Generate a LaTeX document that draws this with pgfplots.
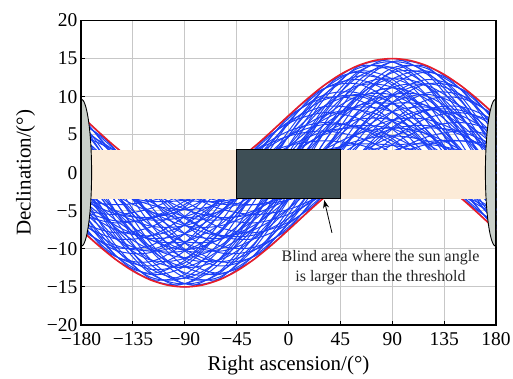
\documentclass[border=0pt]{standalone}
\usepackage{fontspec}
\setmainfont{Liberation Serif}
\usepackage{pgfplots}
\pgfplotsset{compat=1.18}
\usetikzlibrary{arrows.meta}
\definecolor{bluec}{RGB}{28,64,245}
\definecolor{redc}{RGB}{232,30,40}
\definecolor{beige}{RGB}{252,235,216}
\definecolor{darkbox}{RGB}{62,79,86}
\definecolor{ellc}{RGB}{202,208,202}
\pgfplotsset{bl/.style={bluec, line width=1pt, smooth, no marks},
  rd/.style={redc, line width=1.6pt, smooth, no marks}}
\begin{document}
\begin{tikzpicture}
\path[use as bounding box] (-81pt,-53pt) rectangle (432pt,325pt);
\begin{axis}[
 at={(0pt,0pt)}, anchor=south west,
 width=415pt, height=304.5pt, scale only axis,
 xmin=-180, xmax=180, ymin=-20, ymax=20,
 xtick={-180,-135,...,180}, ytick={-20,-15,...,20},
 xticklabels={−180,−135,−90,−45,0,45,90,135,180},
 yticklabels={−20,−15,−10,−5,0,5,10,15,20},
 tick align=inside, xtick pos=bottom, ytick pos=left,
 major tick length=4pt,
 grid=major, grid style={draw=black!22, line width=0.9pt},
 tick label style={font=\fontsize{19.5}{21}\selectfont},
 xticklabel style={yshift=-4pt},
 label style={font=\fontsize{21}{23}\selectfont},
 xlabel={Right ascension/(°)}, ylabel={Declination/(°)},
 xlabel style={yshift=-3pt},
 ylabel style={yshift=5pt},
 axis line style={line width=1.2pt},
 tick style={black, line width=0.9pt},
]
% blue family
\addplot[bl] coordinates {(-210,7.5)(-180,0)(-150,-7.5)(-120,-12.99)(-90,-15)(-60,-12.99)(-30,-7.5)(0,0)(30,7.5)(60,12.99)(90,15)(120,12.99)(150,7.5)(180,0)(210,-7.5)};
\addplot[bl] coordinates {(-210,5.07)(-180,-2.57)(-150,-9.51)(-120,-13.91)(-90,-14.58)(-60,-11.35)(-30,-5.07)(0,2.57)(30,9.51)(60,13.91)(90,14.58)(120,11.35)(150,5.07)(180,-2.57)(210,-9.51)};
\addplot[bl] coordinates {(-210,2.51)(-180,-4.82)(-150,-10.85)(-120,-13.98)(-90,-13.36)(-60,-9.16)(-30,-2.51)(0,4.82)(30,10.85)(60,13.98)(90,13.36)(120,9.16)(150,2.51)(180,-4.82)(210,-10.85)};
\addplot[bl] coordinates {(-210,0.12)(-180,-6.5)(-150,-11.38)(-120,-13.21)(-90,-11.5)(-60,-6.71)(-30,-0.12)(0,6.5)(30,11.38)(60,13.21)(90,11.5)(120,6.71)(150,0.12)(180,-6.5)(210,-11.38)};
\addplot[bl] coordinates {(-210,-1.79)(-180,-7.39)(-150,-11.01)(-120,-11.68)(-90,-9.22)(-60,-4.28)(-30,1.79)(0,7.39)(30,11.01)(60,11.68)(90,9.22)(120,4.28)(150,-1.79)(180,-7.39)(210,-11.01)};
\addplot[bl] coordinates {(-210,-3.01)(-180,-7.39)(-150,-9.79)(-120,-9.57)(-90,-6.78)(-60,-2.17)(-30,3.01)(0,7.39)(30,9.79)(60,9.57)(90,6.78)(120,2.17)(150,-3.01)(180,-7.39)(210,-9.79)};
\addplot[bl] coordinates {(-210,-3.38)(-180,-6.5)(-150,-7.88)(-120,-7.15)(-90,-4.5)(-60,-0.65)(-30,3.38)(0,6.5)(30,7.88)(60,7.15)(90,4.5)(120,0.65)(150,-3.38)(180,-6.5)(210,-7.88)};
\addplot[bl] coordinates {(-210,-2.85)(-180,-4.82)(-150,-5.49)(-120,-4.70)(-90,-2.64)(-60,0.12)(-30,2.85)(0,4.82)(30,5.49)(60,4.70)(90,2.64)(120,-0.12)(150,-2.85)(180,-4.82)(210,-5.49)};
\addplot[bl] coordinates {(-210,-1.51)(-180,-2.57)(-150,-2.93)(-120,-2.51)(-90,-1.42)(-60,0.05)(-30,1.51)(0,2.57)(30,2.93)(60,2.51)(90,1.42)(120,-0.05)(150,-1.51)(180,-2.57)(210,-2.93)};
\addplot[bl] coordinates {(-210,0.5)(-180,0)(-150,-0.5)(-120,-0.87)(-90,-1)(-60,-0.87)(-30,-0.5)(0,0)(30,0.5)(60,0.87)(90,1)(120,0.87)(150,0.5)(180,0)(210,-0.5)};
\addplot[bl] coordinates {(-210,2.93)(-180,2.57)(-150,1.51)(-120,0.05)(-90,-1.42)(-60,-2.51)(-30,-2.93)(0,-2.57)(30,-1.51)(60,-0.05)(90,1.42)(120,2.51)(150,2.93)(180,2.57)(210,1.51)};
\addplot[bl] coordinates {(-210,5.49)(-180,4.82)(-150,2.85)(-120,0.12)(-90,-2.64)(-60,-4.70)(-30,-5.49)(0,-4.82)(30,-2.85)(60,-0.12)(90,2.64)(120,4.70)(150,5.49)(180,4.82)(210,2.85)};
\addplot[bl] coordinates {(-210,7.88)(-180,6.5)(-150,3.38)(-120,-0.65)(-90,-4.5)(-60,-7.15)(-30,-7.88)(0,-6.5)(30,-3.38)(60,0.65)(90,4.5)(120,7.15)(150,7.88)(180,6.5)(210,3.38)};
\addplot[bl] coordinates {(-210,9.79)(-180,7.39)(-150,3.01)(-120,-2.17)(-90,-6.78)(-60,-9.57)(-30,-9.79)(0,-7.39)(30,-3.01)(60,2.17)(90,6.78)(120,9.57)(150,9.79)(180,7.39)(210,3.01)};
\addplot[bl] coordinates {(-210,11.01)(-180,7.39)(-150,1.79)(-120,-4.28)(-90,-9.22)(-60,-11.68)(-30,-11.01)(0,-7.39)(30,-1.79)(60,4.28)(90,9.22)(120,11.68)(150,11.01)(180,7.39)(210,1.79)};
\addplot[bl] coordinates {(-210,11.38)(-180,6.5)(-150,-0.12)(-120,-6.71)(-90,-11.5)(-60,-13.21)(-30,-11.38)(0,-6.5)(30,0.12)(60,6.71)(90,11.5)(120,13.21)(150,11.38)(180,6.5)(210,-0.12)};
\addplot[bl] coordinates {(-210,10.85)(-180,4.82)(-150,-2.51)(-120,-9.16)(-90,-13.36)(-60,-13.98)(-30,-10.85)(0,-4.82)(30,2.51)(60,9.16)(90,13.36)(120,13.98)(150,10.85)(180,4.82)(210,-2.51)};
\addplot[bl] coordinates {(-210,9.51)(-180,2.57)(-150,-5.07)(-120,-11.35)(-90,-14.58)(-60,-13.91)(-30,-9.51)(0,-2.57)(30,5.07)(60,11.35)(90,14.58)(120,13.91)(150,9.51)(180,2.57)(210,-5.07)};
\addplot[bl] coordinates {(-210,5.11)(-180,-1.26)(-150,-7.29)(-120,-11.37)(-90,-12.40)(-60,-10.11)(-30,-5.11)(0,1.26)(30,7.29)(60,11.37)(90,12.40)(120,10.11)(150,5.11)(180,-1.26)(210,-7.29)};
\addplot[bl] coordinates {(-210,2.62)(-180,-3.45)(-150,-8.60)(-120,-11.45)(-90,-11.22)(-60,-7.99)(-30,-2.62)(0,3.45)(30,8.60)(60,11.45)(90,11.22)(120,7.99)(150,2.62)(180,-3.45)(210,-8.60)};
\addplot[bl] coordinates {(-210,0.51)(-180,-4.71)(-150,-8.67)(-120,-10.31)(-90,-9.18)(-60,-5.59)(-30,-0.51)(0,4.71)(30,8.67)(60,10.31)(90,9.18)(120,5.59)(150,0.51)(180,-4.71)(210,-8.67)};
\addplot[bl] coordinates {(-210,-0.67)(-180,-4.71)(-150,-7.49)(-120,-8.27)(-90,-6.82)(-60,-3.55)(-30,0.67)(0,4.71)(30,7.49)(60,8.27)(90,6.82)(120,3.55)(150,-0.67)(180,-4.71)(210,-7.49)};
\addplot[bl] coordinates {(-210,-0.60)(-180,-3.45)(-150,-5.38)(-120,-5.87)(-90,-4.78)(-60,-2.41)(-30,0.60)(0,3.45)(30,5.38)(60,5.87)(90,4.78)(120,2.41)(150,-0.60)(180,-3.45)(210,-5.38)};
\addplot[bl] coordinates {(-210,0.71)(-180,-1.26)(-150,-2.89)(-120,-3.75)(-90,-3.60)(-60,-2.49)(-30,-0.71)(0,1.26)(30,2.89)(60,3.75)(90,3.60)(120,2.49)(150,0.71)(180,-1.26)(210,-2.89)};
\addplot[bl] coordinates {(-210,2.89)(-180,1.26)(-150,-0.71)(-120,-2.49)(-90,-3.60)(-60,-3.75)(-30,-2.89)(0,-1.26)(30,0.71)(60,2.49)(90,3.60)(120,3.75)(150,2.89)(180,1.26)(210,-0.71)};
\addplot[bl] coordinates {(-210,5.38)(-180,3.45)(-150,0.60)(-120,-2.41)(-90,-4.78)(-60,-5.87)(-30,-5.38)(0,-3.45)(30,-0.60)(60,2.41)(90,4.78)(120,5.87)(150,5.38)(180,3.45)(210,0.60)};
\addplot[bl] coordinates {(-210,7.49)(-180,4.71)(-150,0.67)(-120,-3.55)(-90,-6.82)(-60,-8.27)(-30,-7.49)(0,-4.71)(30,-0.67)(60,3.55)(90,6.82)(120,8.27)(150,7.49)(180,4.71)(210,0.67)};
\addplot[bl] coordinates {(-210,8.67)(-180,4.71)(-150,-0.51)(-120,-5.59)(-90,-9.18)(-60,-10.31)(-30,-8.67)(0,-4.71)(30,0.51)(60,5.59)(90,9.18)(120,10.31)(150,8.67)(180,4.71)(210,-0.51)};
\addplot[bl] coordinates {(-210,8.60)(-180,3.45)(-150,-2.62)(-120,-7.99)(-90,-11.22)(-60,-11.45)(-30,-8.60)(0,-3.45)(30,2.62)(60,7.99)(90,11.22)(120,11.45)(150,8.60)(180,3.45)(210,-2.62)};
\addplot[bl] coordinates {(-210,7.29)(-180,1.26)(-150,-5.11)(-120,-10.11)(-90,-12.40)(-60,-11.37)(-30,-7.29)(0,-1.26)(30,5.11)(60,10.11)(90,12.40)(120,11.37)(150,7.29)(180,1.26)(210,-5.11)};
\addplot[bl] coordinates {(-210,5.05)(-180,0)(-150,-5.05)(-120,-8.75)(-90,-10.1)(-60,-8.75)(-30,-5.05)(0,0)(30,5.05)(60,8.75)(90,10.1)(120,8.75)(150,5.05)(180,0)(210,-5.05)};
\addplot[bl] coordinates {(-210,2.84)(-180,-1.95)(-150,-6.22)(-120,-8.82)(-90,-9.05)(-60,-6.86)(-30,-2.84)(0,1.95)(30,6.22)(60,8.82)(90,9.05)(120,6.86)(150,2.84)(180,-1.95)(210,-6.22)};
\addplot[bl] coordinates {(-210,1.79)(-180,-1.95)(-150,-5.17)(-120,-7.00)(-90,-6.95)(-60,-5.04)(-30,-1.79)(0,1.95)(30,5.17)(60,7.00)(90,6.95)(120,5.04)(150,1.79)(180,-1.95)(210,-5.17)};
\addplot[bl] coordinates {(-210,2.95)(-180,0)(-150,-2.95)(-120,-5.11)(-90,-5.9)(-60,-5.11)(-30,-2.95)(0,0)(30,2.95)(60,5.11)(90,5.9)(120,5.11)(150,2.95)(180,0)(210,-2.95)};
\addplot[bl] coordinates {(-210,5.17)(-180,1.95)(-150,-1.79)(-120,-5.04)(-90,-6.95)(-60,-7.00)(-30,-5.17)(0,-1.95)(30,1.79)(60,5.04)(90,6.95)(120,7.00)(150,5.17)(180,1.95)(210,-1.79)};
\addplot[bl] coordinates {(-210,6.22)(-180,1.95)(-150,-2.84)(-120,-6.86)(-90,-9.05)(-60,-8.82)(-30,-6.22)(0,-1.95)(30,2.84)(60,6.86)(90,9.05)(120,8.82)(150,6.22)(180,1.95)(210,-2.84)};
\addplot[bl] coordinates {(-210,5.97)(-180,-1.11)(-150,-7.89)(-120,-12.56)(-90,-13.86)(-60,-11.44)(-30,-5.97)(0,1.11)(30,7.89)(60,12.56)(90,13.86)(120,11.44)(150,5.97)(180,-1.11)(210,-7.89)};
\addplot[bl] coordinates {(-210,1.69)(-180,-4.88)(-150,-10.15)(-120,-12.68)(-90,-11.83)(-60,-7.80)(-30,-1.69)(0,4.88)(30,10.15)(60,12.68)(90,11.83)(120,7.80)(150,1.69)(180,-4.88)(210,-10.15)};
\addplot[bl] coordinates {(-210,-1.52)(-180,-6.38)(-150,-9.52)(-120,-10.12)(-90,-8)(-60,-3.74)(-30,1.52)(0,6.38)(30,9.52)(60,10.12)(90,8)(120,3.74)(150,-1.52)(180,-6.38)(210,-9.52)};
\addplot[bl] coordinates {(-210,-2.14)(-180,-4.88)(-150,-6.32)(-120,-6.05)(-90,-4.17)(-60,-1.17)(-30,2.14)(0,4.88)(30,6.32)(60,6.05)(90,4.17)(120,1.17)(150,-2.14)(180,-4.88)(210,-6.32)};
\addplot[bl] coordinates {(-210,0.11)(-180,-1.11)(-150,-2.03)(-120,-2.41)(-90,-2.14)(-60,-1.29)(-30,-0.11)(0,1.11)(30,2.03)(60,2.41)(90,2.14)(120,1.29)(150,0.11)(180,-1.11)(210,-2.03)};
\addplot[bl] coordinates {(-210,4.19)(-180,3.19)(-150,1.33)(-120,-0.87)(-90,-2.85)(-60,-4.07)(-30,-4.19)(0,-3.19)(30,-1.33)(60,0.87)(90,2.85)(120,4.07)(150,4.19)(180,3.19)(210,1.33)};
\addplot[bl] coordinates {(-210,8.18)(-180,5.99)(-150,2.20)(-120,-2.17)(-90,-5.97)(-60,-8.17)(-30,-8.18)(0,-5.99)(30,-2.20)(60,2.17)(90,5.97)(120,8.17)(150,8.18)(180,5.99)(210,2.20)};
\addplot[bl] coordinates {(-210,10.21)(-180,5.99)(-150,0.17)(-120,-5.69)(-90,-10.03)(-60,-11.69)(-30,-10.21)(0,-5.99)(30,-0.17)(60,5.69)(90,10.03)(120,11.69)(150,10.21)(180,5.99)(210,0.17)};
\addplot[bl] coordinates {(-210,9.34)(-180,3.19)(-150,-3.82)(-120,-9.79)(-90,-13.15)(-60,-12.99)(-30,-9.34)(0,-3.19)(30,3.82)(60,9.79)(90,13.15)(120,12.99)(150,9.34)(180,3.19)(210,-3.82)};
% further curves
\addplot[bl] coordinates {(-210,6.21)(-180,-1.24)(-150,-8.35)(-120,-13.22)(-90,-14.55)(-60,-11.98)(-30,-6.21)(0,1.24)(30,8.35)(60,13.22)(90,14.55)(120,11.98)(150,6.21)(180,-1.24)(210,-8.35)};
\addplot[bl] coordinates {(-210,8.35)(-180,1.24)(-150,-6.21)(-120,-11.98)(-90,-14.55)(-60,-13.22)(-30,-8.35)(0,-1.24)(30,6.21)(60,11.98)(90,14.55)(120,13.22)(150,8.35)(180,1.24)(210,-6.21)};
\addplot[bl] coordinates {(-210,3.80)(-180,-3.56)(-150,-9.96)(-120,-13.70)(-90,-13.76)(-60,-10.14)(-30,-3.80)(0,3.56)(30,9.96)(60,13.70)(90,13.76)(120,10.14)(150,3.80)(180,-3.56)(210,-9.96)};
\addplot[bl] coordinates {(-210,9.96)(-180,3.56)(-150,-3.80)(-120,-10.14)(-90,-13.76)(-60,-13.70)(-30,-9.96)(0,-3.56)(30,3.80)(60,10.14)(90,13.76)(120,13.70)(150,9.96)(180,3.56)(210,-3.80)};
\addplot[bl] coordinates {(-210,1.41)(-180,-5.46)(-150,-10.87)(-120,-13.36)(-90,-12.28)(-60,-7.90)(-30,-1.41)(0,5.46)(30,10.87)(60,13.36)(90,12.28)(120,7.90)(150,1.41)(180,-5.46)(210,-10.87)};
\addplot[bl] coordinates {(-210,10.87)(-180,5.46)(-150,-1.41)(-120,-7.90)(-90,-12.28)(-60,-13.36)(-30,-10.87)(0,-5.46)(30,1.41)(60,7.90)(90,12.28)(120,13.36)(150,10.87)(180,5.46)(210,-1.41)};
\addplot[bl] coordinates {(-210,-0.66)(-180,-6.70)(-150,-10.94)(-120,-12.24)(-90,-10.27)(-60,-5.54)(-30,0.66)(0,6.70)(30,10.94)(60,12.24)(90,10.27)(120,5.54)(150,-0.66)(180,-6.70)(210,-10.94)};
\addplot[bl] coordinates {(-210,10.94)(-180,6.70)(-150,0.66)(-120,-5.54)(-90,-10.27)(-60,-12.24)(-30,-10.94)(0,-6.70)(30,-0.66)(60,5.54)(90,10.27)(120,12.24)(150,10.94)(180,6.70)(210,0.66)};
\addplot[bl] coordinates {(-210,-2.17)(-180,-7.13)(-150,-10.17)(-120,-10.49)(-90,-8)(-60,-3.37)(-30,2.17)(0,7.13)(30,10.17)(60,10.49)(90,8)(120,3.37)(150,-2.17)(180,-7.13)(210,-10.17)};
\addplot[bl] coordinates {(-210,10.17)(-180,7.13)(-150,2.17)(-120,-3.37)(-90,-8)(-60,-10.49)(-30,-10.17)(0,-7.13)(30,-2.17)(60,3.37)(90,8)(120,10.49)(150,10.17)(180,7.13)(210,2.17)};
\addplot[bl] coordinates {(-210,-2.93)(-180,-6.70)(-150,-8.67)(-120,-8.31)(-90,-5.73)(-60,-1.61)(-30,2.93)(0,6.70)(30,8.67)(60,8.31)(90,5.73)(120,1.61)(150,-2.93)(180,-6.70)(210,-8.67)};
\addplot[bl] coordinates {(-210,8.67)(-180,6.70)(-150,2.93)(-120,-1.61)(-90,-5.73)(-60,-8.31)(-30,-8.67)(0,-6.70)(30,-2.93)(60,1.61)(90,5.73)(120,8.31)(150,8.67)(180,6.70)(210,2.93)};
\addplot[bl] coordinates {(-210,-2.87)(-180,-5.46)(-150,-6.59)(-120,-5.95)(-90,-3.72)(-60,-0.49)(-30,2.87)(0,5.46)(30,6.59)(60,5.95)(90,3.72)(120,0.49)(150,-2.87)(180,-5.46)(210,-6.59)};
\addplot[bl] coordinates {(-210,6.59)(-180,5.46)(-150,2.87)(-120,-0.49)(-90,-3.72)(-60,-5.95)(-30,-6.59)(0,-5.46)(30,-2.87)(60,0.49)(90,3.72)(120,5.95)(150,6.59)(180,5.46)(210,2.87)};
\addplot[bl] coordinates {(-210,-1.96)(-180,-3.56)(-150,-4.20)(-120,-3.72)(-90,-2.24)(-60,-0.16)(-30,1.96)(0,3.56)(30,4.20)(60,3.72)(90,2.24)(120,0.16)(150,-1.96)(180,-3.56)(210,-4.20)};
\addplot[bl] coordinates {(-210,4.20)(-180,3.56)(-150,1.96)(-120,-0.16)(-90,-2.24)(-60,-3.72)(-30,-4.20)(0,-3.56)(30,-1.96)(60,0.16)(90,2.24)(120,3.72)(150,4.20)(180,3.56)(210,1.96)};
\addplot[bl] coordinates {(-210,-0.34)(-180,-1.24)(-150,-1.80)(-120,-1.88)(-90,-1.45)(-60,-0.64)(-30,0.34)(0,1.24)(30,1.80)(60,1.88)(90,1.45)(120,0.64)(150,-0.34)(180,-1.24)(210,-1.80)};
\addplot[bl] coordinates {(-210,1.80)(-180,1.24)(-150,0.34)(-120,-0.64)(-90,-1.45)(-60,-1.88)(-30,-1.80)(0,-1.24)(30,-0.34)(60,0.64)(90,1.45)(120,1.88)(150,1.80)(180,1.24)(210,0.34)};
\addplot[bl] coordinates {(-210,5.58)(-180,0)(-150,-5.58)(-120,-9.66)(-90,-11.15)(-60,-9.66)(-30,-5.58)(0,0)(30,5.58)(60,9.66)(90,11.15)(120,9.66)(150,5.58)(180,0)(210,-5.58)};
\addplot[bl] coordinates {(-210,2.43)(-180,0)(-150,-2.43)(-120,-4.20)(-90,-4.85)(-60,-4.20)(-30,-2.43)(0,0)(30,2.43)(60,4.20)(90,4.85)(120,4.20)(150,2.43)(180,0)(210,-2.43)};
\addplot[bl] coordinates {(-210,3.05)(-180,-2.39)(-150,-7.19)(-120,-10.06)(-90,-10.23)(-60,-7.66)(-30,-3.05)(0,2.39)(30,7.19)(60,10.06)(90,10.23)(120,7.66)(150,3.05)(180,-2.39)(210,-7.19)};
\addplot[bl] coordinates {(-210,7.19)(-180,2.39)(-150,-3.05)(-120,-7.66)(-90,-10.23)(-60,-10.06)(-30,-7.19)(0,-2.39)(30,3.05)(60,7.66)(90,10.23)(120,10.06)(150,7.19)(180,2.39)(210,-3.05)};
\addplot[bl] coordinates {(-210,1.08)(-180,-3.38)(-150,-6.92)(-120,-8.62)(-90,-8)(-60,-5.24)(-30,-1.08)(0,3.38)(30,6.92)(60,8.62)(90,8)(120,5.24)(150,1.08)(180,-3.38)(210,-6.92)};
\addplot[bl] coordinates {(-210,6.92)(-180,3.38)(-150,-1.08)(-120,-5.24)(-90,-8)(-60,-8.62)(-30,-6.92)(0,-3.38)(30,1.08)(60,5.24)(90,8)(120,8.62)(150,6.92)(180,3.38)(210,-1.08)};
\addplot[bl] coordinates {(-210,0.82)(-180,-2.39)(-150,-4.96)(-120,-6.20)(-90,-5.77)(-60,-3.80)(-30,-0.82)(0,2.39)(30,4.96)(60,6.20)(90,5.77)(120,3.80)(150,0.82)(180,-2.39)(210,-4.96)};
\addplot[bl] coordinates {(-210,4.96)(-180,2.39)(-150,-0.82)(-120,-3.80)(-90,-5.77)(-60,-6.20)(-30,-4.96)(0,-2.39)(30,0.82)(60,3.80)(90,5.77)(120,6.20)(150,4.96)(180,2.39)(210,-0.82)};
% red envelopes
\addplot[rd] coordinates {(-195,9.54)(-180,7.5)(-165,5.40)(-150,3.38)(-135,1.60)(-120,0.20)(-105,-0.69)(-90,-1)(-75,-0.69)(-60,0.20)(-45,1.60)(-30,3.38)(-15,5.40)(0,7.5)(15,9.54)(30,11.38)(45,12.91)(60,14.06)(75,14.76)(90,15)(105,14.76)(120,14.06)(135,12.91)(150,11.38)(165,9.54)(180,7.5)(195,5.40)};
\addplot[rd] coordinates {(-195,-5.40)(-180,-7.5)(-165,-9.54)(-150,-11.38)(-135,-12.91)(-120,-14.06)(-105,-14.76)(-90,-15)(-75,-14.76)(-60,-14.06)(-45,-12.91)(-30,-11.38)(-15,-9.54)(0,-7.5)(15,-5.40)(30,-3.38)(45,-1.60)(60,-0.20)(75,0.69)(90,1)(105,0.69)(120,-0.20)(135,-1.60)(150,-3.38)(165,-5.40)(180,-7.5)(195,-9.54)};
% bands and blind area
\fill[beige] (axis cs:-180,-3.4) rectangle (axis cs:180,3);
\draw[black, line width=0.9pt, fill=darkbox] (axis cs:-45,-3.4) rectangle (axis cs:45,3);
\draw[black, line width=0.9pt, fill=ellc] (axis cs:-180,0) ellipse [x radius=9.2, y radius=9.7];
\draw[black, line width=0.9pt, fill=ellc] (axis cs:180,0) ellipse [x radius=9.2, y radius=9.7];
% annotation
\draw[black, line width=0.8pt, -{Stealth[length=8pt,width=6pt]}] (axis cs:37.7,-7.9) -- (axis cs:31,-3.6);
\node[align=center, font=\fontsize{16}{20}\selectfont, text=black!85] at (axis cs:79.8,-12.5) {Blind area where the sun angle\\is larger than the threshold};
\draw[black, line width=1.2pt] (rel axis cs:0,0) rectangle (rel axis cs:1,1);
\end{axis}
\end{tikzpicture}
\end{document}
